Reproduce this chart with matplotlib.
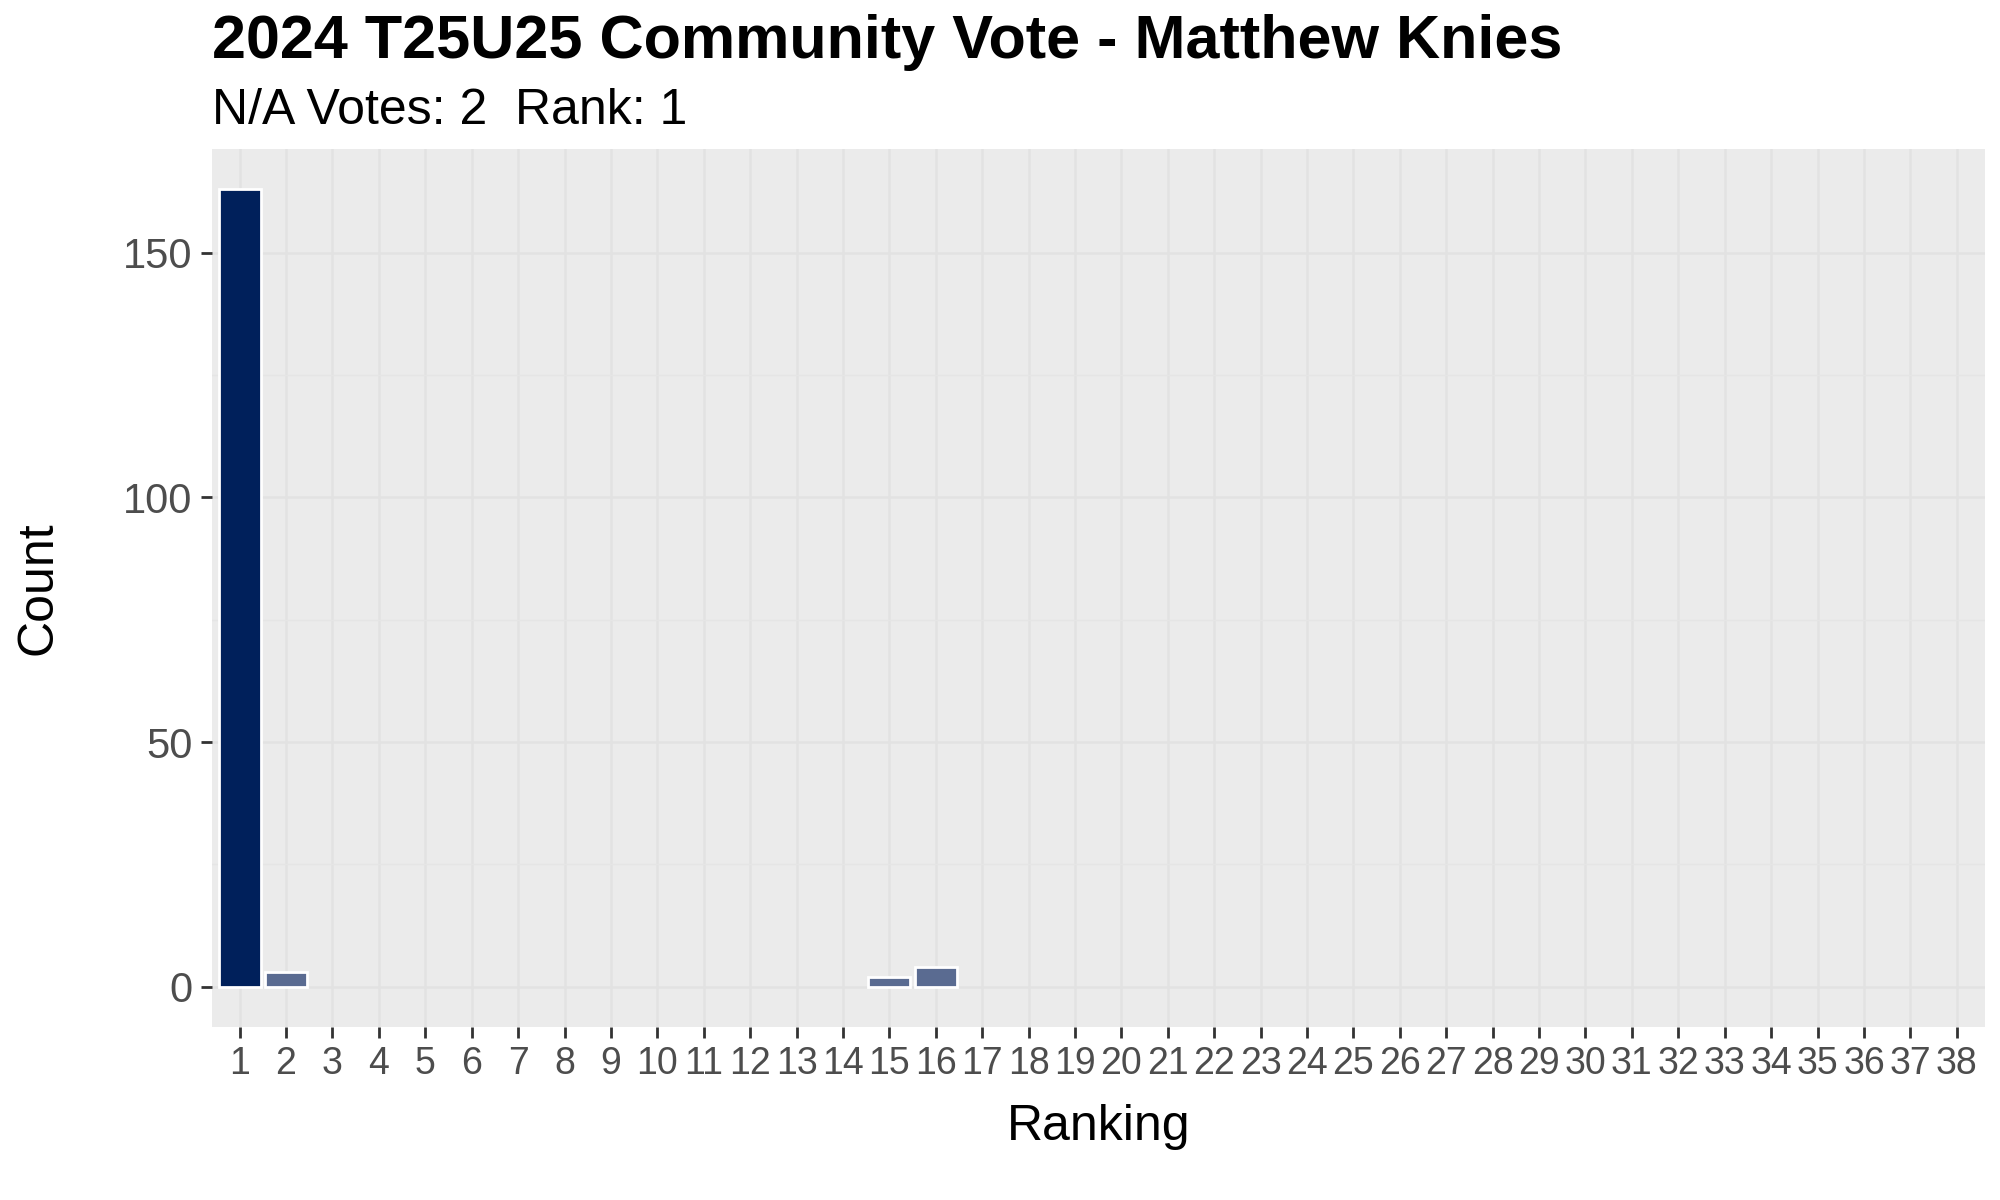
import numpy as np
import matplotlib
matplotlib.use("Agg")
import matplotlib.pyplot as plt

plt.rcParams['font.family'] = ['Liberation Sans', 'DejaVu Sans']

# data
rankings = np.arange(1, 39)
counts = np.zeros(38, dtype=int)
counts[0] = 163   # rank 1
counts[1] = 3     # rank 2
counts[14] = 2    # rank 15
counts[15] = 4    # rank 16
na_votes = 2
rank = 1

title = "2024 T25U25 Community Vote - Matthew Knies"
subtitle = "N/A Votes: %d  Rank: %d" % (na_votes, rank)

top_color = '#00205B'
other_color = '#5A6B91'

fig = plt.figure(figsize=(10, 6), dpi=200)
ax = fig.add_axes([0.1059, 0.1445, 0.8864, 0.7312])
ax.set_facecolor('#EBEBEB')

mask = counts > 0
colors = [top_color if r == rank else other_color for r in rankings[mask]]
ax.bar(rankings[mask], counts[mask], width=0.9, color=colors,
       edgecolor='white', linewidth=1.0, zorder=3)

ymax = counts.max()
ax.set_xlim(0.4, 38.6)
ax.set_ylim(-0.05 * ymax, 1.05 * ymax)

ax.set_xticks(rankings)
ax.set_xticklabels([str(r) for r in rankings], fontsize=13.5, color='#4D4D4D')
ax.set_yticks([0, 50, 100, 150])
ax.set_yticklabels(['0', '50', '100', '150'], fontsize=15, color='#4D4D4D')
ax.set_yticks([25, 75, 125], minor=True)
ax.tick_params(axis='both', which='major', length=4, width=1.0, color='#333333', pad=3)
ax.tick_params(axis='y', which='minor', length=0)

ax.grid(True, which='major', color='#E2E2E2', linewidth=0.9, zorder=0)
ax.grid(True, which='minor', axis='y', color='#E5E5E5', linewidth=0.5, zorder=0)
ax.set_axisbelow(True)
for s in ax.spines.values():
    s.set_visible(False)

ax.set_xlabel('Ranking', fontsize=18, labelpad=8)
ax.set_ylabel('Count', fontsize=18, labelpad=22)

fig.text(0.1059, 0.952, title, fontsize=22, fontweight='bold', ha='left', va='baseline')
fig.text(0.1059, 0.897, subtitle, fontsize=18, ha='left', va='baseline')

fig.savefig('out.png', dpi=200, facecolor='white')
